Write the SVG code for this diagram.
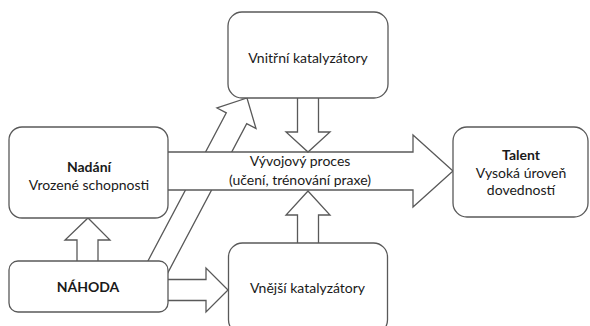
<svg xmlns="http://www.w3.org/2000/svg" width="590" height="326" viewBox="0 0 590 326">
<style>
.box{fill:#fff;stroke:#595959;stroke-width:1.3}
.arr{fill:#fff;stroke:#595959;stroke-width:1.3;stroke-linejoin:miter}
text{font-family:Lato,"Open Sans","Liberation Sans",sans-serif;font-size:14px;fill:#1a1a1a;text-anchor:middle}
.b{font-weight:bold}
</style>
<rect width="590" height="326" fill="#fff"/>
<g id="connectors">
<polygon class="arr" points="145.7,265.2 226.3,112.8 217,108 247,98 256,128.5 246.7,123.6 166.1,276"/>
<polygon class="arr" points="160,152 413,152 413,135 453,171 413,207 413,190 160,190"/>
<polygon class="arr" points="297.5,95 318.5,95 318.5,132 330,132 308,152 286,132 297.5,132"/>
<polygon class="arr" points="297.5,246 318.5,246 318.5,215 330,215 308,191 286,215 297.5,215"/>
<polygon class="arr" points="77,264 98,264 98,240 110,240 88,218 65,240 77,240"/>
<polygon class="arr" points="165,279.5 206,279.5 206,268 228,290 206,312 206,300.5 165,300.5"/>
</g>
<g id="nadani">
<rect class="box" x="9" y="127" width="159" height="91" rx="13"/>
<text class="b" x="89" y="172">Nadání</text>
<text x="89" y="190">Vrozené schopnosti</text>
</g>
<g id="nahoda">
<rect class="box" x="9" y="261" width="159" height="51" rx="9"/>
<text class="b" x="88" y="292">NÁHODA</text>
</g>
<g id="vnitrni">
<rect class="box" x="228" y="12" width="160" height="86" rx="14"/>
<text x="308" y="63">Vnitřní katalyzátory</text>
</g>
<g id="vnejsi">
<rect class="box" x="228.5" y="243" width="159" height="91" rx="14"/>
<text x="307.5" y="293">Vnější katalyzátory</text>
</g>
<g id="talent">
<rect class="box" x="453" y="127" width="135" height="90" rx="14"/>
<text class="b" x="521" y="160">Talent</text>
<text x="521" y="177.5">Vysoká úroveň</text>
<text x="521" y="195">dovedností</text>
</g>
<g id="proces-label">
<text x="300" y="166">Vývojový proces</text>
<text x="300" y="185">(učení, trénování praxe)</text>
</g>
</svg>
